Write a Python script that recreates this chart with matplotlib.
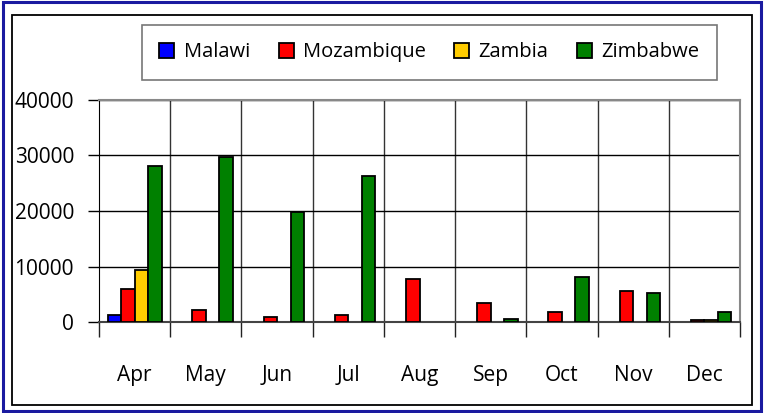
import matplotlib.pyplot as plt
import numpy as np
from matplotlib.patches import Rectangle

plt.rcParams['font.family'] = ['Open Sans', 'DejaVu Sans']

months = ['Apr', 'May', 'Jun', 'Jul', 'Aug', 'Sep', 'Oct', 'Nov', 'Dec']
countries = ['Malawi', 'Mozambique', 'Zambia', 'Zimbabwe']
colors = ['#0000ff', '#ff0000', '#ffcc00', '#008000']

# nan = no bar shown for that month
nan = np.nan
malawi = [1300, nan, nan, nan, nan, nan, nan, nan, nan]
mozambique = [5900, 2200, 900, 1300, 7700, 3500, 1800, 5600, 400]
zambia = [9400, nan, nan, nan, nan, nan, nan, nan, 400]
zimbabwe = [28100, 29700, 19800, 26300, nan, 500, 8200, 5200, 1800]
series = [malawi, mozambique, zambia, zimbabwe]

fig = plt.figure(figsize=(7.64, 4.13), dpi=100)

# outer blue double frame and inner black frame
fig.patches.append(Rectangle((0.004, 0.005), 0.992, 0.99, transform=fig.transFigure,
                             fill=False, edgecolor='#1a1aa0', linewidth=2.2))
fig.patches.append(Rectangle((0.016, 0.019), 0.968, 0.945, transform=fig.transFigure,
                             fill=False, edgecolor='black', linewidth=1.3))

ax = fig.add_axes([0.1296, 0.2203, 0.8390, 0.5376])

x = np.arange(len(months))
w = 0.19
for i, (name, vals, c) in enumerate(zip(countries, series, colors)):
    ax.bar(x + (i - 1.5) * w, vals, w, color=c, edgecolor='black', linewidth=1.3,
           label=name, zorder=3)

ax.set_xlim(-0.5, len(months) - 0.5)
ax.set_ylim(0, 40000)
ax.set_yticks([0, 10000, 20000, 30000, 40000])
ax.set_yticklabels(['0', '10000', '20000', '30000', '40000'])
ax.yaxis.grid(True, color='black', linewidth=1.0, zorder=0)

ax.set_xticks(x)
ax.set_xticklabels(months)
ax.set_xticks(np.arange(len(months) + 1) - 0.5, minor=True)
ax.tick_params(axis='x', which='major', length=0, pad=31, labelsize=15)
ax.tick_params(axis='x', which='minor', length=11, width=1, color='#222222')
ax.tick_params(axis='y', length=8, width=1, labelsize=15, pad=10)
for b in np.arange(1, len(months)) - 0.5:
    ax.axvline(b, color='#333333', linewidth=1.0, zorder=1)

for s in ['top', 'right']:
    ax.spines[s].set_color('#888888')
    ax.spines[s].set_linewidth(1.5)
ax.spines['left'].set_color('black')
ax.spines['bottom'].set_color('#444444')
ax.spines['bottom'].set_linewidth(1.5)

leg = fig.legend(loc='center', bbox_to_anchor=(0.562, 0.873), ncol=4, fontsize=14.5,
                 frameon=True, fancybox=False, edgecolor='#555555',
                 handlelength=0.75, handleheight=0.75, handletextpad=0.45,
                 columnspacing=1.43, borderpad=0.85)
leg.get_frame().set_linewidth(1.2)

fig.savefig('out.png', dpi=100)
